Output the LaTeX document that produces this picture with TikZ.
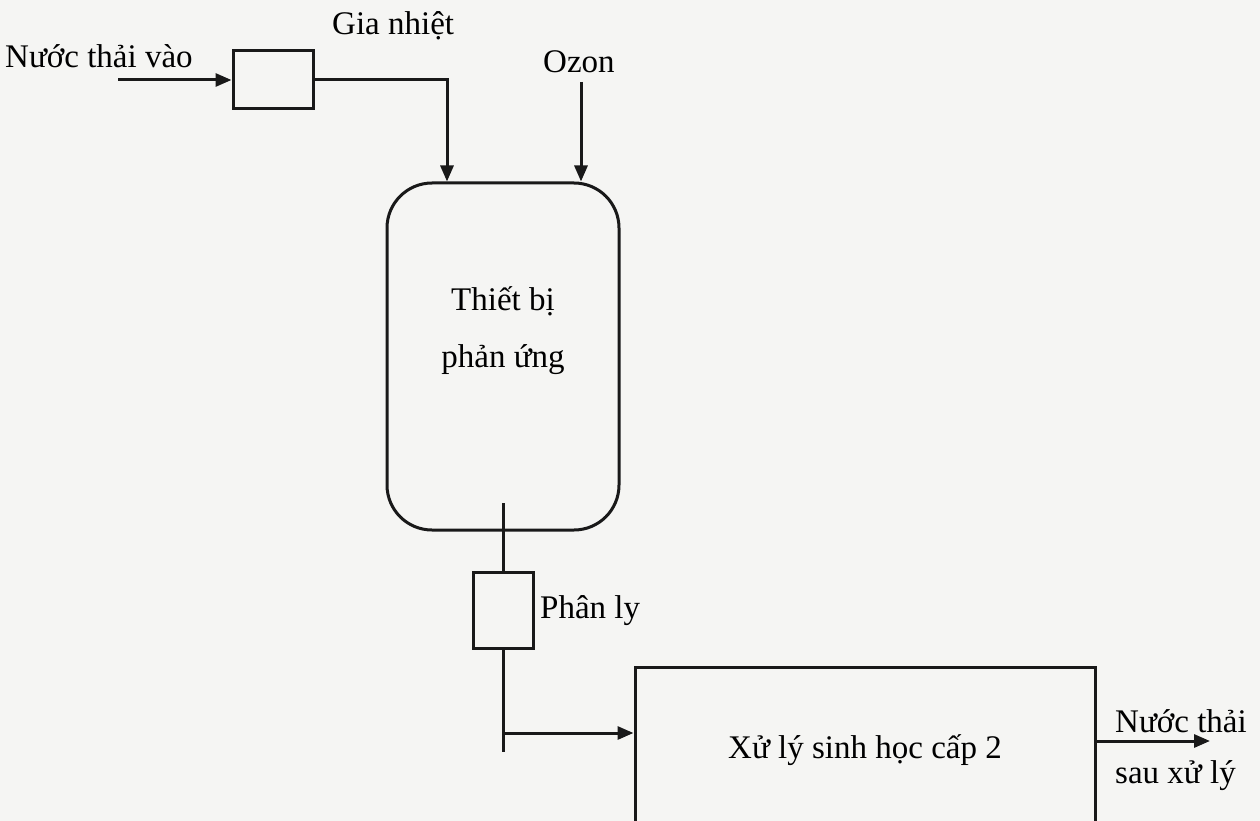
\documentclass[tikz,border=0pt]{standalone}
\usepackage{fontspec}
\setmainfont{Liberation Serif}
\usetikzlibrary{arrows.meta}
\definecolor{paper}{RGB}{245,245,243}
\definecolor{ink}{RGB}{25,25,25}
\tikzset{
  lbl/.style={font=\fontsize{33}{40}\selectfont, text=black, inner sep=0pt},
  box/.style={draw=ink, line width=3pt, inner sep=0pt},
  pipe/.style={draw=ink, line width=3pt},
  arr/.style={pipe, -{Triangle[length=16pt,width=13pt]}},
}
\begin{document}
\begin{tikzpicture}[x=1pt,y=-1pt]
\useasboundingbox (0,0) rectangle (1260,821);
\fill[paper] (0,0) rectangle (1260,821);
\clip (0,0) rectangle (1260,821);

% labels
\node[lbl, anchor=base west] (inlbl) at (5,68) {Nước thải vào};
\node[lbl, anchor=base west] (heatlbl) at (332,35) {Gia nhiệt};
\node[lbl, anchor=base west] (ozlbl) at (543,73) {Ozon};

% boxes
\node[box, minimum width=80pt, minimum height=58pt] (heat) at (273,80) {};
\node[box, rounded corners=45pt, minimum width=232pt, minimum height=347pt] (react) at (503,356.5) {};
\node[lbl, align=center, font=\fontsize{33}{57}\selectfont] (reactlbl) at (503,331) {Thiết bị\\phản ứng};
\node[box, minimum width=60pt, minimum height=76pt] (sep) at (503,610) {};
\node[lbl, anchor=base west] (seplbl) at (540,618) {Phân ly};
\node[box, minimum width=460pt, minimum height=183pt] (bio) at (865,758.5) {};
\node[lbl, anchor=base] (biolbl) at (865,758) {Xử lý sinh học cấp 2};
\node[lbl, anchor=west, align=left, font=\fontsize{33}{51}\selectfont] (outlbl) at (1115,750) {Nước thải\\sau xử lý};

% free ends
\coordinate (inS) at (118,80);
\coordinate (ozS) at (581,82);
\coordinate (dip) at (503,503);
\coordinate (junc) at (503,733);
\coordinate (pend) at (503,752);
\coordinate (outE) at (1210,741);

% connectors
\draw[arr] (inS) -- (heat.west);
\draw[arr] (heat.east) -| ([xshift=-56pt]react.north);
\draw[arr] (ozS) -- ([xshift=78pt]react.north);
\draw[pipe] (dip) -- (sep.north);
\draw[pipe] (sep.south) -- (pend);
\draw[arr] (junc) -- (junc -| bio.west);
\draw[arr] (bio.east |- outE) -- (outE);
\end{tikzpicture}
\end{document}
